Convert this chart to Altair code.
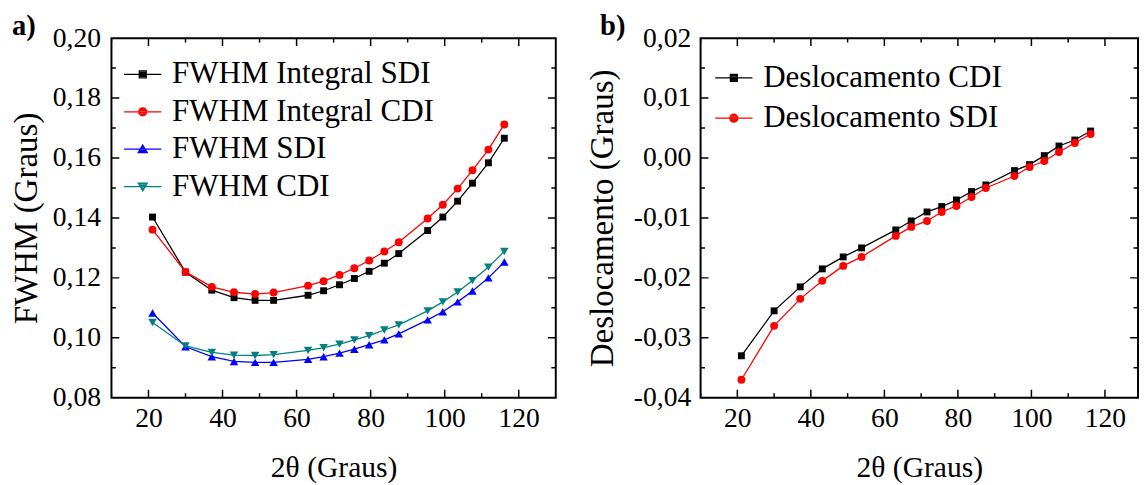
import altair as alt
import pandas as pd

FONT = "Liberation Serif, Times New Roman, serif"

# ---- data ----
two_theta = [21.1, 30.0, 37.1, 43.1, 48.8, 53.8, 63.1, 67.3, 71.6, 75.6,
             79.6, 83.7, 87.6, 95.4, 99.5, 103.5, 107.5, 111.8, 116.1]

fwhm_integral_sdi = [0.1403, 0.1219, 0.1159, 0.1134, 0.1125, 0.1125, 0.1142, 0.1157, 0.1177, 0.1198,
                     0.1222, 0.1249, 0.1281, 0.1358, 0.1403, 0.1456, 0.1516, 0.1584, 0.1666]
fwhm_integral_cdi = [0.1361, 0.1220, 0.1170, 0.1152, 0.1146, 0.1151, 0.1174, 0.1189, 0.1210, 0.1232,
                     0.1258, 0.1288, 0.1319, 0.1398, 0.1444, 0.1498, 0.1559, 0.1628, 0.1712]
fwhm_sdi = [0.1083, 0.0970, 0.0937, 0.0921, 0.0918, 0.0918, 0.0928, 0.0937, 0.0949, 0.0962,
            0.0977, 0.0993, 0.1013, 0.1060, 0.1087, 0.1120, 0.1156, 0.1200, 0.1253]
fwhm_cdi = [0.1051, 0.0973, 0.0951, 0.0942, 0.0941, 0.0944, 0.0958, 0.0967, 0.0979, 0.0993,
            0.1007, 0.1026, 0.1043, 0.1090, 0.1120, 0.1153, 0.1191, 0.1236, 0.1288]

desloc_cdi = [-0.0330, -0.0255, -0.0215, -0.0185, -0.0165, -0.0150, -0.0120, -0.0105, -0.0090, -0.0081,
              -0.0070, -0.0056, -0.0045, -0.0021, -0.0011, 0.0004, 0.0020, 0.0030, 0.0045]
desloc_sdi = [-0.0370, -0.0280, -0.0235, -0.0205, -0.0180, -0.0165, -0.0130, -0.0115, -0.0105, -0.0090,
              -0.0080, -0.0065, -0.0050, -0.0030, -0.0015, -0.0005, 0.0010, 0.0025, 0.0040]

names_a = ["FWHM Integral SDI", "FWHM Integral CDI", "FWHM SDI", "FWHM CDI"]
names_b = ["Deslocamento CDI", "Deslocamento SDI"]
panel_labels = ["a)", "b)"]

x_major = [20, 40, 60, 80, 100, 120]
x_minor = [10, 30, 50, 70, 90, 110, 130]
ya_major = [0.08, 0.10, 0.12, 0.14, 0.16, 0.18, 0.20]
ya_minor = [0.09, 0.11, 0.13, 0.15, 0.17, 0.19]
yb_major = [-0.04, -0.03, -0.02, -0.01, 0.00, 0.01, 0.02]
yb_minor = [-0.035, -0.025, -0.015, -0.005, 0.005, 0.015]

# ---- styles ----
colors_a = ["#000000", "#ff0000", "#0000ff", "#008080"]
shapes_a = ["square", "circle", "triangle-up", "triangle-down"]
sizes_a = [49, 64, 75, 75]
colors_b = ["#000000", "#ff0000"]
shapes_b = ["square", "circle"]
sizes_b = [49, 64]

# legend glyphs: a line with a (stroke-filled) marker in the middle
LINE = "M-5.4,0H5.4"
P_SQ = LINE + "M-1,-1H1V1H-1ZM-1,-0.6H1M-1,-0.2H1M-1,0.2H1M-1,0.6H1"
P_CI = (LINE + "M-1.15,0A1.15,1.15,0,1,1,1.15,0A1.15,1.15,0,1,1,-1.15,0Z"
        "M-0.83,-0.8H0.83M-1.08,-0.4H1.08M-1.08,0.4H1.08M-0.83,0.8H0.83")
P_TU = (LINE + "M0,-1.2L1.3,1L-1.3,1Z"
        "M-0.24,-0.8H0.24M-0.47,-0.4H0.47M-0.71,0H0.71M-0.95,0.4H0.95M-1.18,0.8H1.18")
P_TD = (LINE + "M0,1.2L1.3,-1L-1.3,-1Z"
        "M-0.24,0.8H0.24M-0.47,0.4H0.47M-0.71,0H0.71M-0.95,-0.4H0.95M-1.18,-0.8H1.18")
paths_a = [P_SQ, P_CI, P_TU, P_TD]
paths_b = [P_SQ, P_CI]

LABEL_EXPR = "replace(replace(format(datum.value, '.2f'), '.', ','), '\u2212', '-')"


def panel(names, values, colors, shapes, sizes, paths, x_domain, y_domain,
          y_major, y_minor, width, height, panel_label, label_dx, y_title,
          y_label_pad, y_title_pad, legend_x, legend_y, row_pad):
    rows = []
    for name, vals in zip(names, values):
        for xv, yv in zip(two_theta, vals):
            rows.append({"x": xv, "y": yv, "serie": name})
    df = pd.DataFrame(rows)

    xscale = alt.Scale(domain=x_domain, nice=False, zero=False)
    yscale = alt.Scale(domain=y_domain, nice=False, zero=False)
    X = alt.X("x:Q", scale=xscale,
              axis=alt.Axis(values=x_major, format="d", title="2θ (Graus)",
                            labelPadding=7, titlePadding=21))
    Y = alt.Y("y:Q", scale=yscale,
              axis=alt.Axis(values=y_major, labelExpr=LABEL_EXPR, title=y_title,
                            labelPadding=y_label_pad, titlePadding=y_title_pad))

    layers = []

    # inward ticks on all four sides
    def rules(vals, field, side, length):
        d = pd.DataFrame({field: vals})
        base = alt.Chart(d).mark_rule(color="black", strokeWidth=1.5, clip=True)
        if side == "left":
            return base.encode(y=Y, x=alt.value(0), x2=alt.value(length))
        if side == "right":
            return base.encode(y=Y, x=alt.value(width), x2=alt.value(width - length))
        if side == "bottom":
            return base.encode(x=X, y=alt.value(height), y2=alt.value(height - length))
        return base.encode(x=X, y=alt.value(0), y2=alt.value(length))

    for side in ["left", "right"]:
        layers.append(rules(y_major, "y", side, 8))
        layers.append(rules(y_minor, "y", side, 4.5))
    for side in ["bottom", "top"]:
        layers.append(rules(x_major, "x", side, 8))
        layers.append(rules(x_minor, "x", side, 4.5))

    for name, color in zip(names, colors):
        layers.append(
            alt.Chart(df).transform_filter(alt.datum.serie == name)
            .mark_line(strokeWidth=1.3, color=color).encode(x=X, y=Y)
        )
    for name, color, shape, size in zip(names, colors, shapes, sizes):
        layers.append(
            alt.Chart(df).transform_filter(alt.datum.serie == name)
            .mark_point(shape=shape, filled=True, size=size, opacity=1, color=color)
            .encode(x=X, y=Y)
        )

    leg = alt.Legend(orient="none", legendX=legend_x, legendY=legend_y, title=None,
                     labelFont=FONT, labelFontSize=31.5, labelColor="black", labelLimit=600,
                     symbolSize=49, symbolStrokeWidth=1.3, symbolOpacity=1, labelOffset=14,
                     rowPadding=row_pad, padding=0, direction="vertical")
    legend_layer = alt.Chart(df).mark_point(filled=False, size=0, opacity=1,
                                            strokeWidth=1.3).encode(
        x=X, y=Y,
        color=alt.Color("serie:N", scale=alt.Scale(domain=names, range=colors), legend=leg),
        shape=alt.Shape("serie:N", scale=alt.Scale(domain=names, range=paths), legend=leg),
    )
    layers.append(legend_layer)

    # panel letter ("a)" / "b)") in the top-left corner, outside the frame
    letter = alt.Chart(pd.DataFrame({"t": [panel_label]})).mark_text(
        font=FONT, fontSize=29, fontWeight="bold", color="black",
        align="left", baseline="alphabetic",
    ).encode(text="t:N", x=alt.value(label_dx), y=alt.value(-3))
    layers.append(letter)

    return alt.layer(*layers).properties(width=width, height=height)


pa = panel(names_a, [fwhm_integral_sdi, fwhm_integral_cdi, fwhm_sdi, fwhm_cdi],
           colors_a, shapes_a, sizes_a, paths_a, [10, 130], [0.08, 0.20],
           ya_major, ya_minor, 451, 365, panel_labels[0], -101, "FWHM (Graus)",
           11, 9.5, 16, 21, 5)
pb = panel(names_b, [desloc_cdi, desloc_sdi],
           colors_b, shapes_b, sizes_b, paths_b, [10, 129], [-0.04, 0.02],
           yb_major, yb_minor, 444, 365, panel_labels[1], -102, "Deslocamento (Graus)",
           10, 14, 18, 24.5, 8)

chart = alt.hconcat(pa, pb, spacing=28).resolve_scale(
    x="independent", y="independent", color="independent", shape="independent",
).resolve_legend(
    color="independent", shape="independent"
).properties(
    padding=0
).configure_view(
    stroke="black", strokeWidth=2
).configure_axis(
    grid=False, domain=False, ticks=False, tickSize=0,
    labelFont=FONT, labelFontSize=28, labelColor="black",
    titleFont=FONT, titleFontWeight="normal", titleColor="black",
).configure_axisX(
    titleFontSize=30
).configure_axisY(
    titleFontSize=33.5
)

chart.save("out.html", embed_options={"renderer": "svg", "actions": False})
